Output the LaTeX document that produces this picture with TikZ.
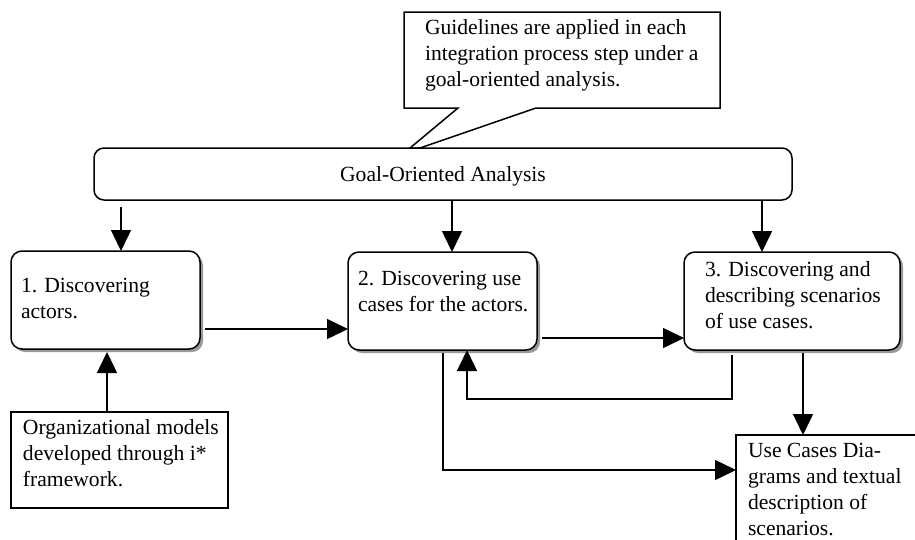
\documentclass[tikz,border=0pt]{standalone}
\usepackage{fontspec}
\setmainfont{Liberation Serif}
\usetikzlibrary{arrows.meta,shadows}
\begin{document}
\begin{tikzpicture}[x=1pt,y=-1pt,
  line width=1.5pt,
  every node/.style={inner sep=0pt, outer sep=0pt},
  rbox/.style={draw, rounded corners=11pt, fill=white, anchor=north west},
  sbox/.style={rbox, drop shadow={shadow xshift=3pt, shadow yshift=-3pt, fill=black!40, opacity=1}},
  pbox/.style={draw, fill=white, anchor=north west},
  txt/.style={anchor=base west, align=left, font=\fontsize{21.6}{25.8}\selectfont},
  arr/.style={-{Triangle[length=21pt,width=20pt]}},
]
\useasboundingbox (0,0) rectangle (915,539);

% callout
\coordinate (k1) at (404,12);
\coordinate (k2) at (720,108);
\draw[fill=white] (k1) -- (720,12) -- (k2) -- (536,108) -- (420,148) -- (410,148) -- (458,108) -- (404,108) -- cycle;
\node[txt] (tcall) at (425,86) {Guidelines are applied in each\\integration process step under a\\goal-oriented analysis.};

% goal box
\node[rbox, rounded corners=10pt, minimum width=698pt, minimum height=52pt] (goal) at (94,148) {};
\node[anchor=base, font=\fontsize{21.6}{25.8}\selectfont] (tgoal) at (443,181) {Goal-Oriented Analysis};

% step boxes
\node[sbox, minimum width=189pt, minimum height=98pt] (b1) at (11,251) {};
\node[txt] (t1) at (21,318) {1. Discovering\\actors.};
\node[sbox, minimum width=189pt, minimum height=98pt] (b2) at (348,252) {};
\node[txt] (t2) at (358,311) {2. Discovering use\\cases for the actors.};
\node[sbox, minimum width=216pt, minimum height=98pt] (b3) at (684,252) {};
\node[txt] (t3) at (705,328) {3. Discovering and\\describing scenarios\\of use cases.};

% plain boxes
\node[pbox, minimum width=217pt, minimum height=96pt] (org) at (11,412) {};
\node[txt] (torg) at (23,486) {Organizational models\\developed through i*\\framework.};
\node[pbox, minimum width=200pt, minimum height=130pt] (use) at (736,435) {};
\node[txt] (tuse) at (748,535) {Use Cases Dia-\\grams and textual\\description of\\scenarios.};

% helper coordinates
\coordinate (x1) at (121,0);
\coordinate (x2) at (452,0);
\coordinate (x3) at (762,0);
\coordinate (x4) at (107,0);
\coordinate (x5) at (732,0);
\coordinate (x6) at (467,0);
\coordinate (x7) at (443,0);
\coordinate (x8) at (803,0);
\coordinate (y1) at (0,329);
\coordinate (y2) at (0,338);
\coordinate (y3) at (0,399);
\coordinate (y4) at (0,470);

% connectors
\draw[arr] ([yshift=-7pt]goal.south -| x1) -- (b1.north -| x1);
\draw[arr] (goal.south -| x2) -- (b2.north -| x2);
\draw[arr] (goal.south -| x3) -- (b3.north -| x3);
\draw[arr] (org.north -| x4) -- ([yshift=-3pt]b1.south -| x4);
\draw[arr] ([xshift=5pt]b1.east |- y1) -- (b2.west |- y1);
\draw[arr] ([xshift=5pt]b2.east |- y2) -- (b3.west |- y2);
\draw[arr] ([yshift=-5pt]b3.south -| x5) -- (x5 |- y3) -| (b2.south -| x6);
\draw[arr] ([yshift=-3pt]b2.south -| x7) |- (use.west |- y4);
\draw[arr] ([yshift=-3pt]b3.south -| x8) -- (use.north -| x8);
\end{tikzpicture}
\end{document}
